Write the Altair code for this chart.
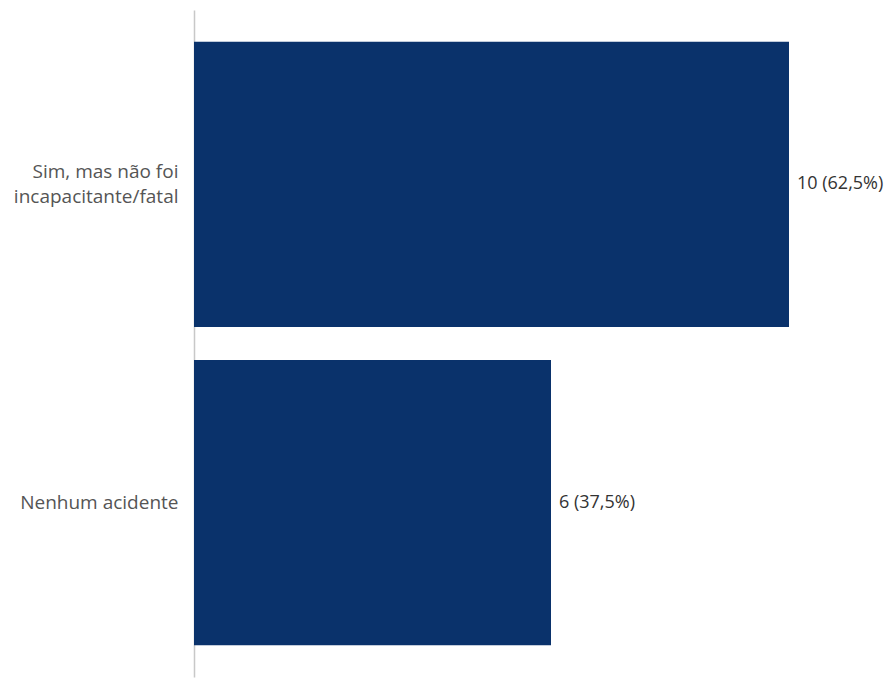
import altair as alt
import pandas as pd

categories = ["Sim, mas não foi|incapacitante/fatal", "Nenhum acidente"]
counts = [10, 6]
labels = ["10 (62,5%)", "6 (37,5%)"]

df = pd.DataFrame({"cat": categories, "n": counts, "lab": labels})

FONT = "Open Sans"

base = alt.Chart(df).encode(
    y=alt.Y("cat:N", sort=categories, title=None,
            scale=alt.Scale(paddingInner=0.104, paddingOuter=0.1),
            axis=alt.Axis(labelExpr="split(datum.label, '|')", labelFontSize=19,
                          labelFont=FONT, labelColor="#555555", labelPadding=16,
                          labelLimit=300, labelLineHeight=25, ticks=False,
                          labelOffset={"condition": {"test": "indexof(datum.value, '|') >= 0", "value": -12.5}, "value": 0},
                          domainColor="#c8c8c8", domainWidth=1.5, grid=False)),
)

bars = base.mark_bar(color="#0a326b").encode(
    x=alt.X("n:Q", scale=alt.Scale(domain=[0, 10], nice=False), axis=None)
)

text = base.mark_text(align="left", baseline="middle", dx=8, fontSize=18,
                      font=FONT, color="#333333").encode(
    x=alt.X("n:Q"), text="lab:N"
)

chart = (bars + text).properties(
    width=595, height=667,
    padding={"left": 194, "top": 10, "right": 96, "bottom": 5},
    autosize=alt.AutoSizeParams(type="none"),
).configure_view(stroke=None)

chart.save("out.html", embed_options={"renderer": "svg", "actions": False})
